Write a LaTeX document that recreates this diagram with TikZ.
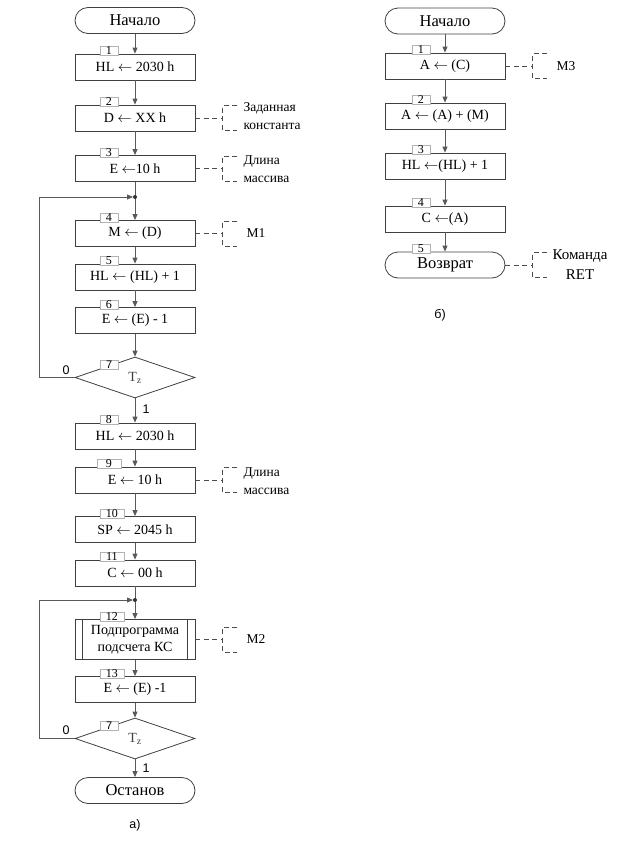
\documentclass[tikz,border=0pt]{standalone}
\usepackage{fontspec}
\setmainfont{Liberation Serif}
\newfontfamily\sansf{Liberation Sans}
\usetikzlibrary{shapes.geometric,arrows.meta,calc}
\newcommand\annot[1]{%
  \draw[note] (#1.east) -- ++(27,0);
  \draw[note] ($(#1.east)+(42,-12.5)$) -- ++(-15,0) -- ++(0,25) -- ++(15,0);}
\begin{document}
\begin{tikzpicture}[x=1pt,y=-1pt,
 proc/.style={draw=black!75, line width=0.8pt, minimum width=120pt, minimum height=26pt, inner sep=0pt, font=\fontsize{14}{16}\selectfont},
 term/.style={proc, rounded corners=13pt, font=\fontsize{16.5}{18}\selectfont},
 dec/.style={draw=black!75, line width=0.8pt, diamond, aspect=2.9, minimum width=120pt, minimum height=41pt, inner sep=0pt, font=\fontsize{14}{15}\selectfont, text=black!75},
 tagbox/.style={draw=black!30, fill=white, line width=0.5pt, inner sep=0.8pt, text height=7.5pt, text depth=0pt, minimum width=18pt, font=\fontsize{12}{12}\selectfont, anchor=west},
 dtag/.style={tagbox, font=\sansf\fontsize{11}{11}\selectfont},
 flow/.style={draw=black!65, line width=0.8pt, -{Triangle[length=6pt,width=5pt]}},
 link/.style={draw=black!65, line width=0.8pt},
 note/.style={draw=black!70, line width=0.6pt, dash pattern=on 5pt off 3.5pt},
 notetext/.style={font=\fontsize{13.5}{18}\selectfont, anchor=west, align=left},
 lbl/.style={font=\sansf\fontsize{12.5}{14}\selectfont},
 dot/.style={circle, fill=black!80, inner sep=0pt, minimum size=4pt}
]
\useasboundingbox (0,0) rectangle (643,844);
% ---------- left chart a)
\node[term] (s) at (135,20.5) {Начало};
\node[proc] (b1) at (135,67) {HL $\leftarrow$ 2030 h};
\node[proc] (b2) at (135,118) {D $\leftarrow$ XX h};
\node[proc] (b3) at (135,168.5) {E $\leftarrow$10 h};
\coordinate (j1) at (135,197);
\node[proc] (b4) at (135,233.5) {M $\leftarrow$ (D)};
\node[proc] (b5) at (135,277) {HL $\leftarrow$ (HL) + 1};
\node[proc] (b6) at (135,320.5) {E $\leftarrow$ (E) - 1};
\node[dec] (d1) at (135,377.5) {T\textsubscript{z}};
\node[proc] (b8) at (135,436) {HL $\leftarrow$ 2030 h};
\node[proc] (b9) at (135,480) {E $\leftarrow$ 10 h};
\node[proc] (b10) at (135,529.5) {SP $\leftarrow$ 2045 h};
\node[proc] (b11) at (135,573) {C $\leftarrow$ 00 h};
\coordinate (j2) at (135,600);
\node[proc, minimum height=40pt, align=center, font=\fontsize{14}{17}\selectfont] (b12) at (135,639.5) {Подпрограмма\\подсчета КС};
\draw[black!75, line width=0.8pt] ($(b12.north west)+(8,0)$) -- ($(b12.south west)+(8,0)$);
\draw[black!75, line width=0.8pt] ($(b12.north east)+(-8,0)$) -- ($(b12.south east)+(-8,0)$);
\node[proc] (b13) at (135,689.5) {E $\leftarrow$ (E) -1};
\node[dec] (d2) at (135,738.5) {T\textsubscript{z}};
\node[term] (e) at (135,790.5) {Останов};
\node[lbl] (la) at (135,825) {а)};

\draw[flow] (s) -- (b1);
\draw[flow] (b1) -- (b2);
\draw[flow] (b2) -- (b3);
\draw[link] (b3) -- (j1);
\draw[flow] (j1) -- (b4);
\draw[flow] (b4) -- (b5);
\draw[flow] (b5) -- (b6);
\draw[flow] (b6) -- (d1);
\draw[flow] (d1) -- (b8);
\draw[flow] (b8) -- (b9);
\draw[flow] (b9) -- (b10);
\draw[flow] (b10) -- (b11);
\draw[link] (b11) -- (j2);
\draw[flow] (j2) -- (b12);
\draw[flow] (b12) -- (b13);
\draw[flow] (b13) -- (d2);
\draw[flow] (d2) -- (e);
\draw[flow, shorten >=2pt] (d1.west) -- ++(-35,0) |- (j1);
\draw[flow, shorten >=2pt] (d2.west) -- ++(-35,0) |- (j2);
\node[dot] (j1d) at (j1) {};
\node[dot] (j2d) at (j2) {};
\node[lbl] (z1) at (66,370) {0};
\node[lbl] (o1) at (146,409) {1};
\node[lbl] (z2) at (66,730) {0};
\node[lbl] (o2) at (146,768) {1};

% tags
\node[tagbox] (t1) at ($(b1.north west)+(25,-2.5)$) {1};
\node[tagbox] (t2) at ($(b2.north west)+(25,-2.5)$) {2};
\node[tagbox] (t3) at ($(b3.north west)+(25,-2.5)$) {3};
\node[tagbox] (t4) at ($(b4.north west)+(25,-2.5)$) {4};
\node[tagbox] (t5) at ($(b5.north west)+(25,-2.5)$) {5};
\node[tagbox] (t6) at ($(b6.north west)+(25,-2.5)$) {6};
\node[dtag] (t7) at (100,365) {7};
\node[tagbox] (t8) at ($(b8.north west)+(25,-2.5)$) {8};
\node[tagbox, minimum width=24pt] (t9) at ($(b9.north west)+(22,-2.5)$) {9};
\node[tagbox, minimum width=24pt] (t10) at ($(b10.north west)+(25,-2.5)$) {10};
\node[tagbox, minimum width=24pt] (t11) at ($(b11.north west)+(25,-2.5)$) {11};
\node[tagbox, minimum width=24pt] (t12) at ($(b12.north west)+(25,-2.5)$) {12};
\node[tagbox, minimum width=24pt] (t13) at ($(b13.north west)+(25,-2.5)$) {13};
\node[dtag] (t72) at (100,726) {7};

% annotations
\annot{b2}
\annot{b3}
\annot{b4}
\annot{b9}
\annot{b12}
\node[notetext] (n2) at (240,116) {Заданная\\константа};
\node[notetext] (n3) at (240,169) {Длина\\массива};
\node[notetext] (n4) at (243,233.5) {M1};
\node[notetext] (n9) at (240,481) {Длина\\массива};
\node[notetext] (n12) at (243,639.5) {M2};

% ---------- right chart б)
\node[term] (rs) at (445,21) {Начало};
\node[proc] (r1) at (445,66) {A $\leftarrow$ (C)};
\node[proc] (r2) at (445,116) {A $\leftarrow$ (A) + (M)};
\node[proc] (r3) at (445,166) {HL $\leftarrow$(HL) + 1};
\node[proc] (r4) at (445,219) {C $\leftarrow$(A)};
\node[term] (r5) at (445,265) {Возврат};
\node[lbl] (lb) at (440,315) {б)};
\draw[flow] (rs) -- (r1);
\draw[flow] (r1) -- (r2);
\draw[flow] (r2) -- (r3);
\draw[flow] (r3) -- (r4);
\draw[flow] (r4) -- (r5);
\node[tagbox] (q1) at ($(r1.north west)+(27,-2.5)$) {1};
\node[tagbox] (q2) at ($(r2.north west)+(27,-2.5)$) {2};
\node[tagbox] (q3) at ($(r3.north west)+(27,-2.5)$) {3};
\node[tagbox] (q4) at ($(r4.north west)+(27,-2.5)$) {4};
\node[tagbox] (q5) at ($(r5.north west)+(27,-2.5)$) {5};
\annot{r1}
\annot{r5}
\node[notetext] (m3) at (553,66) {M3};
\node[notetext, anchor=center, align=center, font=\fontsize{15}{20}\selectfont] (ret) at (580,265) {Команда\\RET};
\end{tikzpicture}
\end{document}
